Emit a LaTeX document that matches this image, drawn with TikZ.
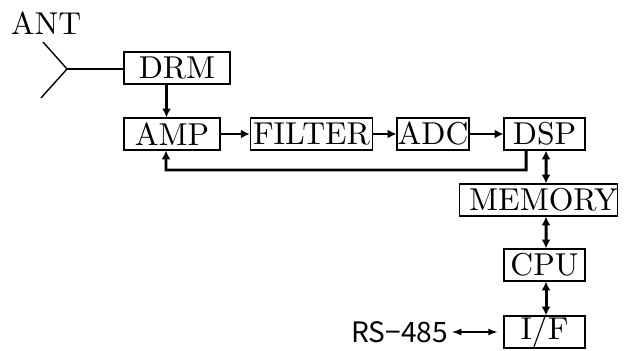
\documentclass[tikz,border=0pt]{standalone}
\usepackage{fontspec}
\newfontfamily\labelfont{Noto Sans CJK JP}
\newfontfamily\boxfont[Extension=.otf]{lmroman10-regular}
\usetikzlibrary{arrows.meta}
\tikzset{
    blockbox/.style={draw, line width=0.6pt, minimum height=0.64cm, inner sep=0pt, font=\boxfont\fontsize{18}{20}\selectfont},
    thinline/.style={line width=0.8pt},
    busline/.style={line width=1.7pt, -{Latex[length=5pt,width=5pt]}},
    dualline/.style={line width=1.7pt, {Latex[length=5pt,width=5pt]}-{Latex[length=5pt,width=5pt]}},
}
\begin{document}
\begin{tikzpicture}
    \useasboundingbox (0,0) rectangle (12.5,7.02);

    % --- UPPER ROW ---
    \node[blockbox, minimum width=2.12cm] (drm) at (3.54, 5.66) {DRM\hspace{0.5cm}};
    \node[blockbox, minimum width=1.92cm] (amp) at (3.44, 4.34) {AMP};
    \node[blockbox, minimum width=2.45cm] (filter) at (6.23, 4.34) {FILTER};
    \node[blockbox, minimum width=1.44cm] (adc) at (8.66, 4.34) {ADC};
    \node[blockbox, minimum width=1.62cm] (dsp) at (10.89, 4.34) {DSP};

    % --- RIGHT COLUMN ---
    \node[blockbox, minimum width=3.15cm] (memory) at (10.77, 3.02) {\hspace{0.2cm}MEMORY};
    \node[blockbox, minimum width=1.62cm] (cpu) at (10.89, 1.72) {CPU};
    \node[blockbox, minimum width=1.62cm] (if) at (10.89, 0.38) {I/F};
    \node[inner sep=0pt, font=\labelfont\fontsize{16}{18}\selectfont] (rs) at (7.99, 0.38) {RS−485};

    % The Antenna
    \node[inner sep=0pt, font=\boxfont\fontsize{18}{20}\selectfont] (ant) at (0.92, 6.56) {ANT};
    \coordinate (feed) at (1.34, 5.64);
    \coordinate (armup) at (0.86, 6.18);
    \coordinate (armdown) at (0.82, 5.06);
    \draw[thinline] (armup) -- (feed) -- (armdown);
    \draw[thinline] (feed) -- (drm.west |- feed);

    % Connectors
    \draw[busline] ([xshift=-0.21cm]drm.south) -- ([xshift=-0.11cm]amp.north);
    \draw[busline] (amp) -- (filter);
    \draw[busline] (filter) -- (adc);
    \draw[busline] (adc) -- (dsp);
    \draw[busline] ([xshift=-0.37cm]dsp.south) |- (3.32, 3.62) -- ([xshift=-0.12cm]amp.south);
    \draw[dualline] ([xshift=0.03cm]dsp.south) -- ([xshift=0.15cm]memory.north);
    \draw[dualline] ([xshift=0.15cm]memory.south) -- ([xshift=0.03cm]cpu.north);
    \draw[dualline] ([xshift=0.03cm]cpu.south) -- ([xshift=0.03cm]if.north);
    \draw[thinline, latex-latex] ([xshift=0.08cm]rs.east) -- ([xshift=-0.12cm]if.west);
\end{tikzpicture}
\end{document}
